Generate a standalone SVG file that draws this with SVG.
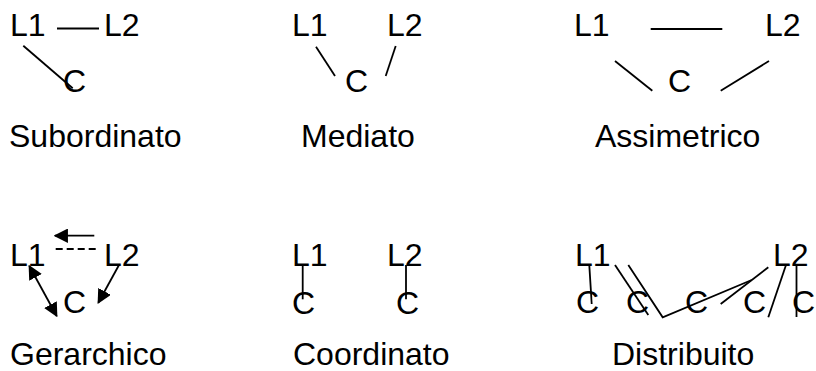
<svg xmlns="http://www.w3.org/2000/svg" width="816" height="371" viewBox="0 0 816 371">
<style>
text{font-family:"Liberation Sans",Arial,sans-serif;font-size:32px;fill:#000}
.l{stroke:#000;stroke-width:1.8;fill:none}
</style>
<defs>
<marker id="ah" viewBox="0 0 10 10" refX="9" refY="5" markerWidth="8" markerHeight="8" orient="auto-start-reverse" markerUnits="strokeWidth">
<path d="M0,0 L10,5 L0,10 z" fill="#000"/>
</marker>
</defs>
<rect width="816" height="371" fill="#fff"/>
<g id="subordinato">
<text x="10" y="36">L1</text><text x="104" y="36">L2</text><text x="63" y="92">C</text>
<text x="9" y="147">Subordinato</text>
</g>
<g id="mediato">
<text x="292" y="36">L1</text><text x="387" y="36">L2</text><text x="345" y="92">C</text>
<text x="301" y="147">Mediato</text>
</g>
<g id="assimetrico">
<text x="574" y="36">L1</text><text x="765" y="36">L2</text><text x="668" y="92">C</text>
<text x="595" y="147">Assimetrico</text>
</g>
<g id="gerarchico">
<text x="10" y="266">L1</text><text x="104" y="266">L2</text><text x="63" y="313">C</text>
<text x="10" y="365">Gerarchico</text>
</g>
<g id="coordinato">
<text x="292" y="266">L1</text><text x="387" y="266">L2</text><text x="292" y="314">C</text><text x="396" y="314">C</text>
<text x="293" y="365">Coordinato</text>
</g>
<g id="distribuito">
<text x="575" y="266">L1</text><text x="773" y="266">L2</text>
<text x="576" y="313">C</text><text x="626" y="313">C</text><text x="685" y="313">C</text><text x="743" y="313">C</text><text x="792" y="313">C</text>
<text x="612" y="365">Distribuito</text>
</g>
<g id="connectors">
<line class="l" x1="57" y1="28.5" x2="99" y2="28.5"/>
<line class="l" x1="23.3" y1="45.7" x2="72.7" y2="88.3"/>
<line class="l" x1="316" y1="46.7" x2="335" y2="76"/>
<line class="l" x1="395.7" y1="46" x2="385.7" y2="76"/>
<line class="l" x1="650.7" y1="29" x2="722.3" y2="29"/>
<line class="l" x1="615" y1="61" x2="652.3" y2="90.7"/>
<line class="l" x1="769" y1="61" x2="720.7" y2="90.7"/>
<line class="l" x1="94.3" y1="235.7" x2="55" y2="235.7" marker-end="url(#ah)"/>
<line class="l" x1="55.7" y1="249" x2="95.7" y2="249" stroke-dasharray="7,4"/>
<line class="l" x1="29.3" y1="266" x2="56.7" y2="316" marker-start="url(#ah)" marker-end="url(#ah)"/>
<line class="l" x1="119" y1="265" x2="98.3" y2="302.7" marker-end="url(#ah)"/>
<line class="l" x1="302.7" y1="265" x2="302.7" y2="299.3"/>
<line class="l" x1="406" y1="265" x2="406" y2="299.3"/>
<line class="l" x1="589.3" y1="265" x2="591.7" y2="304"/>
<line class="l" x1="615" y1="265" x2="648.3" y2="315"/>
<polyline class="l" points="628.3,265 662.7,317.3 751.7,280"/>
<line class="l" x1="768.3" y1="267.3" x2="720.7" y2="304"/>
<line class="l" x1="786" y1="265" x2="768.3" y2="317.3"/>
<line class="l" x1="796.5" y1="265" x2="796.5" y2="317"/>
</g>
</svg>
